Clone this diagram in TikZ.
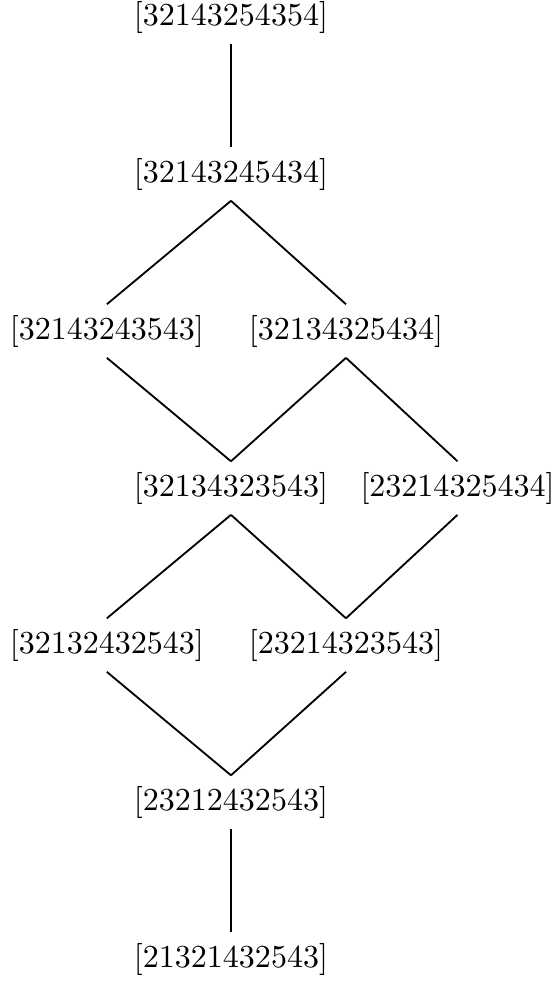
\documentclass[tikz,border=0pt]{standalone}
\usepackage{tikz}
\usetikzlibrary{positioning}

\begin{document}
\begin{tikzpicture}[
    word/.style={inner sep=0.333em, font=\fontsize{10.5pt}{12pt}\selectfont},
    edge/.style={-, line width=0.6pt}
]
    \useasboundingbox (-2.661,0.196) rectangle (3.710,-11.233);

    % Top
    \node[word] (w1) at (0,0) {[32143254354]};
    \node[word] (w2) at (0,-1.809) {[32143245434]};

    % Middle rows
    \node[word] (w3a) at (-1.430,-3.618) {[32143243543]};
    \node[word] (w3b) at (1.325,-3.618) {[32134325434]};
    \node[word] (w4a) at (0,-5.427) {[32134323543]};
    \node[word] (w4b) at (2.610,-5.427) {[23214325434]};
    \node[word] (w5a) at (-1.430,-7.236) {[32132432543]};
    \node[word] (w5b) at (1.325,-7.236) {[23214323543]};

    % Bottom
    \node[word] (w6) at (0,-9.045) {[23212432543]};
    \node[word] (w7) at (0,-10.854) {[21321432543]};

    % Edges
    \draw[edge] (w1.south) -- (w2.north);
    \draw[edge] (w2.south) -- (w3a.north);
    \draw[edge] (w2.south) -- (w3b.north);
    \draw[edge] (w3a.south) -- (w4a.north);
    \draw[edge] (w3b.south) -- (w4a.north);
    \draw[edge] (w3b.south) -- (w4b.north);
    \draw[edge] (w4a.south) -- (w5a.north);
    \draw[edge] (w4a.south) -- (w5b.north);
    \draw[edge] (w4b.south) -- (w5b.north);
    \draw[edge] (w5a.south) -- (w6.north);
    \draw[edge] (w5b.south) -- (w6.north);
    \draw[edge] (w6.south) -- (w7.north);
\end{tikzpicture}
\end{document}
